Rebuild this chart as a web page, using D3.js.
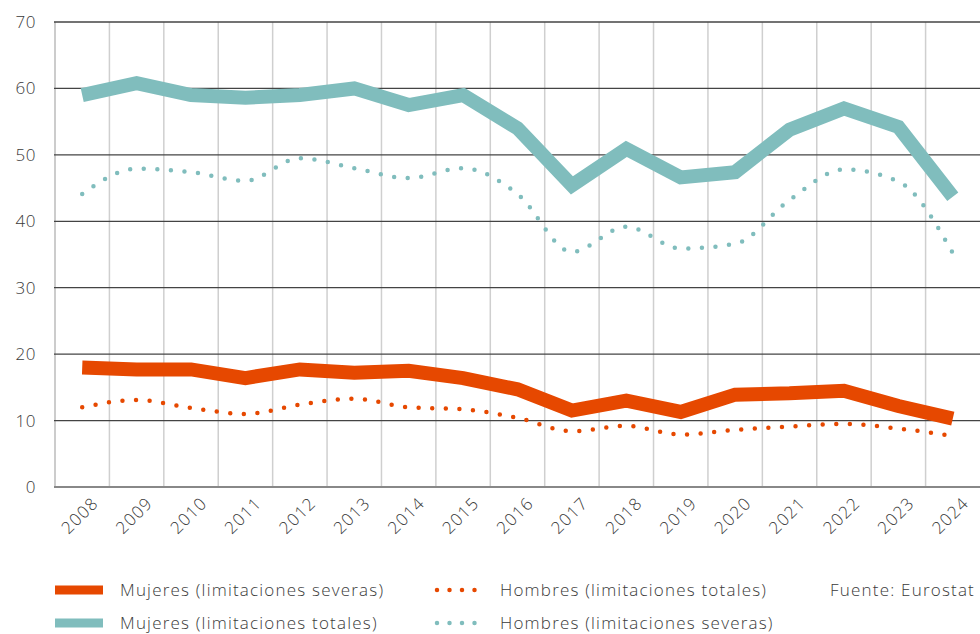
<!DOCTYPE html>
<html lang="es">
<head>
<meta charset="UTF-8">
<title>Limitaciones por sexo</title>
<script src="https://d3js.org/d3.v7.min.js"></script>
<style>
  body { margin: 0; background: #fff; font-family: "Open Sans", "Noto Sans", sans-serif; font-weight: 300; }
  text { fill: #3a3a3a; letter-spacing: 1.2px; }
</style>
</head>
<body>
<svg id="chart" width="980" height="634"></svg>
<script>
// datos
const years = ["2008","2009","2010","2011","2012","2013","2014","2015","2016","2017","2018","2019","2020","2021","2022","2023","2024"];
const mujeresTotales = [59.0, 60.8, 59.0, 58.6, 59.0, 60.0, 57.5, 59.0, 54.0, 45.4, 50.9, 46.6, 47.4, 53.8, 57.0, 54.2, 43.7];
const hombresSeveras = [44.1, 47.9, 47.4, 46.1, 49.5, 48.0, 46.5, 48.0, 44.1, 35.4, 39.2, 35.9, 36.6, 43.2, 47.8, 46.0, 35.2];
const mujeresSeveras = [18.0, 17.7, 17.7, 16.4, 17.7, 17.2, 17.5, 16.4, 14.7, 11.5, 13.0, 11.3, 13.9, 14.1, 14.5, 12.2, 10.3];
const hombresTotales = [12.0, 13.1, 11.9, 11.0, 12.4, 13.3, 12.0, 11.7, 10.4, 8.4, 9.2, 7.9, 8.6, 9.1, 9.5, 8.8, 7.7];
const yTicks = [0, 10, 20, 30, 40, 50, 60, 70];

const orange = "#e64800", teal = "#80bdbd";

const svg = d3.select("#chart");
const plotL = 55, plotR = 980, plotT = 22, plotB = 487;

const x = d3.scaleBand().domain(years).range([plotL, plotR]);
const y = d3.scaleLinear().domain([0, 70]).range([plotB, plotT]);

// rejilla vertical
svg.append("g").selectAll("line")
  .data(years.slice(1))
  .enter().append("line")
  .attr("x1", d => x(d)).attr("x2", d => x(d))
  .attr("y1", plotT).attr("y2", plotB)
  .attr("stroke", "#cfcfcf").attr("stroke-width", 1.5);

svg.append("line")
  .attr("x1", plotL).attr("x2", plotL).attr("y1", plotT).attr("y2", plotB)
  .attr("stroke", "#bbb").attr("stroke-width", 1.5);

// rejilla horizontal
svg.append("g").selectAll("line")
  .data(yTicks)
  .enter().append("line")
  .attr("x1", plotL - 1).attr("x2", plotR)
  .attr("y1", d => y(d)).attr("y2", d => y(d))
  .attr("stroke", d => d === 0 ? "#888" : "#444")
  .attr("stroke-width", d => d === 0 ? 2 : 1.3);

svg.append("g").selectAll("text")
  .data(yTicks)
  .enter().append("text")
  .attr("x", 36).attr("y", d => y(d))
  .attr("dy", "0.35em")
  .attr("text-anchor", "end")
  .style("font-size", "17px")
  .style("letter-spacing", "0.5px")
  .text(d => d);

svg.append("g").selectAll("text")
  .data(years)
  .enter().append("text")
  .attr("transform", d => `translate(${x(d) + x.bandwidth() / 2 + 13},${plotB + 13}) rotate(-45)`)
  .attr("text-anchor", "end")
  .attr("dy", "0.35em")
  .style("font-size", "17px")
  .text(d => d);

const cx = (d, i) => x(years[i]) + x.bandwidth() / 2;
const straight = d3.line().x(cx).y(d => y(d));
const smooth = d3.line().x(cx).y(d => y(d)).curve(d3.curveMonotoneX);

function thick(data, color) {
  svg.append("path").datum(data)
    .attr("d", straight)
    .attr("fill", "none").attr("stroke", color)
    .attr("stroke-width", 14).attr("stroke-linejoin", "miter").attr("stroke-linecap", "butt");
}
function dotted(data, color) {
  svg.append("path").datum(data)
    .attr("d", smooth)
    .attr("fill", "none").attr("stroke", color)
    .attr("stroke-width", 4.5).attr("stroke-linecap", "round")
    .attr("stroke-dasharray", "0 13.6");
}

thick(mujeresTotales, teal);
dotted(hombresSeveras, teal);
thick(mujeresSeveras, orange);
dotted(hombresTotales, orange);

// leyenda
const legend = [
  { label: "Mujeres (limitaciones severas)", color: orange, type: "thick", col: 0, row: 0 },
  { label: "Hombres (limitaciones totales)", color: orange, type: "dot", col: 1, row: 0 },
  { label: "Mujeres (limitaciones totales)", color: teal, type: "thick", col: 0, row: 1 },
  { label: "Hombres (limitaciones severas)", color: teal, type: "dot", col: 1, row: 1 }
];
const lg = svg.append("g").selectAll("g").data(legend).enter().append("g")
  .attr("transform", d => `translate(${d.col ? 435 : 55},${d.row ? 623 : 590})`);
lg.filter(d => d.type === "thick").append("rect")
  .attr("x", 0).attr("y", -4.5).attr("width", 48).attr("height", 9)
  .attr("fill", d => d.color);
lg.filter(d => d.type === "dot").append("line")
  .attr("x1", 2).attr("x2", 52).attr("y1", 0).attr("y2", 0)
  .attr("stroke", d => d.color).attr("stroke-width", 4.5)
  .attr("stroke-linecap", "round").attr("stroke-dasharray", "0 12.5");
lg.append("text")
  .attr("x", 65).attr("dy", "0.35em")
  .style("font-size", "17px")
  .text(d => d.label);

svg.append("text")
  .attr("x", 975).attr("y", 590).attr("dy", "0.35em")
  .attr("text-anchor", "end")
  .style("font-size", "17px")
  .text("Fuente: Eurostat");
</script>
</body>
</html>
